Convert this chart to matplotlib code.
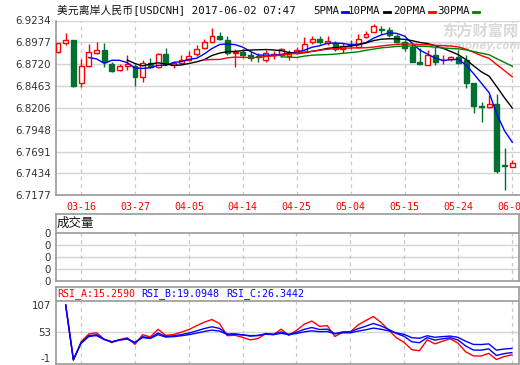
import numpy as np
import pandas as pd
import matplotlib

matplotlib.use("Agg")
import matplotlib.pyplot as plt
from matplotlib.lines import Line2D

W, H = 520, 365

dates = [
    "03-13", "03-14", "03-15", "03-16", "03-17",
    "03-20", "03-21", "03-22", "03-23", "03-24",
    "03-27", "03-28", "03-29", "03-30", "03-31",
    "04-03", "04-04", "04-05", "04-06", "04-07",
    "04-10", "04-11", "04-12", "04-13", "04-14",
    "04-17", "04-18", "04-19", "04-20", "04-21",
    "04-24", "04-25", "04-26", "04-27", "04-28",
    "05-01", "05-02", "05-03", "05-04", "05-05",
    "05-08", "05-09", "05-10", "05-11", "05-12",
    "05-15", "05-16", "05-17", "05-18", "05-19",
    "05-22", "05-23", "05-24", "05-25", "05-26",
    "05-29", "05-30", "05-31", "06-01", "06-02",
]
opens = [
    6.8860, 6.8975, 6.9005, 6.8495, 6.8702, 6.8855, 6.8887, 6.8719, 6.8646, 6.8699,
    6.8699, 6.8564, 6.8734, 6.8691, 6.8837, 6.8705, 6.8734, 6.8775, 6.8840, 6.8907,
    6.8985, 6.9052, 6.9005, 6.8852, 6.8858, 6.8828, 6.8816, 6.8770, 6.8828, 6.8828,
    6.8811, 6.8852, 6.8869, 6.8985, 6.9016, 6.8964, 6.8964, 6.8899, 6.8958, 6.8922,
    6.9040, 6.9095, 6.9131, 6.9125, 6.9052, 6.8981, 6.8922, 6.8750, 6.8711, 6.8828,
    6.8764, 6.8782, 6.8799, 6.8769, 6.8493, 6.8225, 6.8211, 6.8246, 6.7529, 6.7508,
]
highs = [
    6.8972, 6.9087, 6.9010, 6.8778, 6.8954, 6.8981, 6.8966, 6.8749, 6.8723, 6.8828,
    6.8723, 6.8769, 6.8787, 6.8852, 6.8907, 6.8752, 6.8828, 6.8875, 6.8946, 6.9022,
    6.9146, 6.9099, 6.9052, 6.8899, 6.8893, 6.8875, 6.8852, 6.8881, 6.8875, 6.8916,
    6.8881, 6.8926, 6.9034, 6.9052, 6.9046, 6.9052, 6.8993, 6.8966, 6.8999, 6.9075,
    6.9110, 6.9187, 6.9169, 6.9152, 6.9075, 6.9005, 6.8958, 6.8911, 6.8881, 6.8922,
    6.8828, 6.8817, 6.8881, 6.8828, 6.8499, 6.8272, 6.8358, 6.8370, 6.7731, 6.7594,
]
lows = [
    6.8855, 6.8942, 6.8455, 6.8456, 6.8691, 6.8837, 6.8691, 6.8625, 6.8640, 6.8652,
    6.8464, 6.8514, 6.8672, 6.8672, 6.8711, 6.8679, 6.8717, 6.8758, 6.8822, 6.8893,
    6.8978, 6.9005, 6.8828, 6.8681, 6.8787, 6.8752, 6.8746, 6.8740, 6.8781, 6.8799,
    6.8775, 6.8837, 6.8858, 6.8958, 6.8954, 6.8946, 6.8875, 6.8852, 6.8899, 6.8911,
    6.9032, 6.9093, 6.9072, 6.9043, 6.8966, 6.8875, 6.8742, 6.8711, 6.8705, 6.8711,
    6.8717, 6.8758, 6.8717, 6.8440, 6.8150, 6.8037, 6.8209, 6.7437, 6.7235, 6.7508,
]
closes = [
    6.8966, 6.9001, 6.8464, 6.8699, 6.8860, 6.8887, 6.8742, 6.8644, 6.8693, 6.8722,
    6.8564, 6.8728, 6.8681, 6.8840, 6.8719, 6.8734, 6.8775, 6.8822, 6.8895, 6.8978,
    6.9052, 6.9011, 6.8852, 6.8858, 6.8828, 6.8793, 6.8805, 6.8852, 6.8840, 6.8893,
    6.8840, 6.8887, 6.8963, 6.9016, 6.8978, 6.8987, 6.8899, 6.8938, 6.8940, 6.9013,
    6.9078, 6.9166, 6.9125, 6.9063, 6.8981, 6.8914, 6.8750, 6.8717, 6.8828, 6.8746,
    6.8775, 6.8799, 6.8734, 6.8493, 6.8229, 6.8217, 6.8246, 6.7464, 6.7523, 6.7555,
]

price_ticks = [6.9234, 6.8977, 6.8720, 6.8463, 6.8206, 6.7948, 6.7691, 6.7434, 6.7177]
date_ticks = ["03-16", "03-27", "04-05", "04-14", "04-25", "05-04", "05-15", "05-24", "06-02"]

ma_periods = [5, 10, 20, 30]
ma_names = ["5PMA", "10PMA", "20PMA", "30PMA"]
ma_colors = ["#0000ff", "#000000", "#ff0000", "#008000"]

rsi_periods = [6, 12, 24]
rsi_labels = ["RSI_A:15.2590", "RSI_B:19.0948", "RSI_C:26.3442"]
rsi_colors = ["#ff0000", "#0000ff", "#0000ff"]
rsi_ticks = [107, 53, -1]

vol_ticks = [0, 1, 2, 3, 4]
vol_labels = ["0", "0", "0", "0", "0"]

title = "美元离岸人民币[USDCNH] 2017-06-02 07:47"

RED = "#ff0000"
GREEN = "#00702f"
GRID = "#d4d4d4"
BORDER = "#999999"
TICK = "#333333"
MONO = ["DejaVu Sans Mono", "Noto Sans CJK SC"]


def box(left, top, right, bottom):
    return [left / W, 1 - bottom / H, (right - left) / W, (bottom - top) / H]


def fx(x):
    return x / W


def fy(y):
    return 1 - y / H


fig = plt.figure(figsize=(W / 100, H / 100), dpi=100)
fig.patch.set_facecolor("white")

n = len(dates)
idx = np.arange(n)
o = np.array(opens)
c = np.array(closes)
hi = np.array(highs)
lo = np.array(lows)
tick_pos = [dates.index(d) for d in date_ticks]
xlim = (-0.3, (519.5 - 58) / 7.7)

# ---- main candlestick panel
ax = fig.add_axes(box(55.7, 20.5, 519.5, 195.3))
ax.set_xlim(*xlim)
ax.set_ylim(price_ticks[-1], price_ticks[0])
ax.set_yticks(price_ticks)
ax.set_yticklabels([f"{v:.4f}" for v in price_ticks], fontsize=7.4, color=TICK)
ax.set_xticks(tick_pos)
ax.set_xticklabels(date_ticks, fontsize=7.2, color=RED, family=MONO)
ax.tick_params(length=0, pad=3.5)
ax.tick_params(axis="x", pad=5)
ax.grid(axis="y", color=GRID, lw=1)
ax.grid(axis="x", color="#c8c8c8", lw=0.9, ls=(0, (3, 3)))
ax.set_axisbelow(True)
for side in ["top", "right"]:
    ax.spines[side].set_visible(False)
for side in ["left", "bottom"]:
    ax.spines[side].set_color(BORDER)
    ax.spines[side].set_linewidth(1.2)

rising = c >= o
cols = np.where(rising, RED, GREEN)
faces = np.where(rising, "white", GREEN)
body_lo = np.minimum(o, c)
body_h = np.maximum(np.abs(c - o), 0.0002)
ax.vlines(idx, lo, hi, colors=cols, lw=1, zorder=3)
ax.bar(idx, body_h, bottom=body_lo, width=0.64, color=faces,
       edgecolor=cols, lw=1, zorder=4)

close_s = pd.Series(closes)
for period, color in zip(ma_periods, ma_colors):
    ma = close_s.rolling(period).mean()
    ax.plot(idx, ma, color=color, lw=1, zorder=5)

ax.text(0.915, 0.94, "东方财富网", transform=ax.transAxes, fontsize=11,
        fontweight="bold", color="#dadada", family=["Noto Sans CJK SC"],
        ha="center", va="center", zorder=1)
ax.text(0.905, 0.855, "eastmoney.com", transform=ax.transAxes, fontsize=7.5,
        fontweight="bold", style="italic", color="#dadada",
        ha="center", va="center", zorder=1)

# ---- title and MA legend
fig.text(fx(57), fy(10.5), title, fontsize=7.8, family=MONO, color="#111111",
         ha="left", va="center")
leg_x = [313, 348, 393, 437]
for x0, name, color in zip(leg_x, ma_names, ma_colors):
    t = fig.text(fx(x0), fy(10.5), name, fontsize=7.8, family=MONO,
                 color="#111111", ha="left", va="center")
    x1 = x0 + len(name) * 6.6 + 3
    fig.add_artist(Line2D([fx(x1), fx(x1 + 6)], [fy(11.5), fy(11.5)],
                          color=color, lw=2))

# ---- volume panel
vax = fig.add_axes(box(55.7, 214.3, 519, 281))
vax.set_xlim(*xlim)
vtop = vol_ticks[-1] + (232.7 - 214.3) / 12.07
vax.set_ylim(vol_ticks[0], vtop)
vax.set_yticks(vol_ticks)
vax.set_yticklabels(vol_labels, fontsize=7.4, color=TICK)
vax.set_xticks([])
vax.tick_params(length=0, pad=3.5)
for v in vol_ticks[1:-1]:
    vax.axhline(v, color=GRID, lw=1, zorder=1)
vax.axhline(vol_ticks[-1], color=BORDER, lw=1.2, zorder=2)
vax.vlines(tick_pos, vol_ticks[0], vol_ticks[-1], colors="#c8c8c8",
           lw=0.9, linestyles=(0, (3, 3)), zorder=1)
for s in vax.spines.values():
    s.set_color(BORDER)
    s.set_linewidth(1.2)
vax.text(0.003, (vol_ticks[-1] + vtop) / 2, "成交量", fontsize=9,
         family=["Noto Sans CJK SC"], color="#111111", ha="left", va="center",
         transform=vax.get_yaxis_transform())

# ---- RSI panel
rax = fig.add_axes(box(55.7, 287.3, 519, 363.7))
rax.set_xlim(*xlim)
rtop = rsi_ticks[0] + (301 - 287.3) * (rsi_ticks[0] - rsi_ticks[-1]) / (363.7 - 301)
rax.set_ylim(rsi_ticks[-1], rtop)
rax.set_yticks(rsi_ticks)
rax.set_yticklabels([str(v) for v in rsi_ticks], fontsize=7.4, color=TICK)
labels = rax.get_yticklabels()
labels[0].set_va("top")
labels[-1].set_va("bottom")
rax.set_xticks([])
rax.tick_params(length=0, pad=3.5)
rax.axhline(rsi_ticks[1], color=GRID, lw=1, zorder=1)
rax.axhline(rsi_ticks[0], color=BORDER, lw=1.2, zorder=2)
rax.vlines(tick_pos, rsi_ticks[-1], rsi_ticks[0], colors="#c8c8c8",
           lw=0.9, linestyles=(0, (3, 3)), zorder=1)
for s in rax.spines.values():
    s.set_color(BORDER)
    s.set_linewidth(1.2)

diff = close_s.diff()
gain = diff.clip(lower=0)
absd = diff.abs()
for period, color in zip(rsi_periods, rsi_colors):
    rsi = gain.ewm(alpha=1 / period).mean() / absd.ewm(alpha=1 / period).mean() * 100
    rax.plot(idx, rsi, color=color, lw=1, zorder=3)

hdr_y = (rsi_ticks[0] + rtop) / 2
for x0, text, color in zip([57, 141, 226], rsi_labels, rsi_colors):
    rax.text(fx(x0), fy(294), text, fontsize=7.2, family=MONO, color=color,
             ha="left", va="center", transform=fig.transFigure)

fig.savefig("out.png", dpi=100, facecolor="white")
